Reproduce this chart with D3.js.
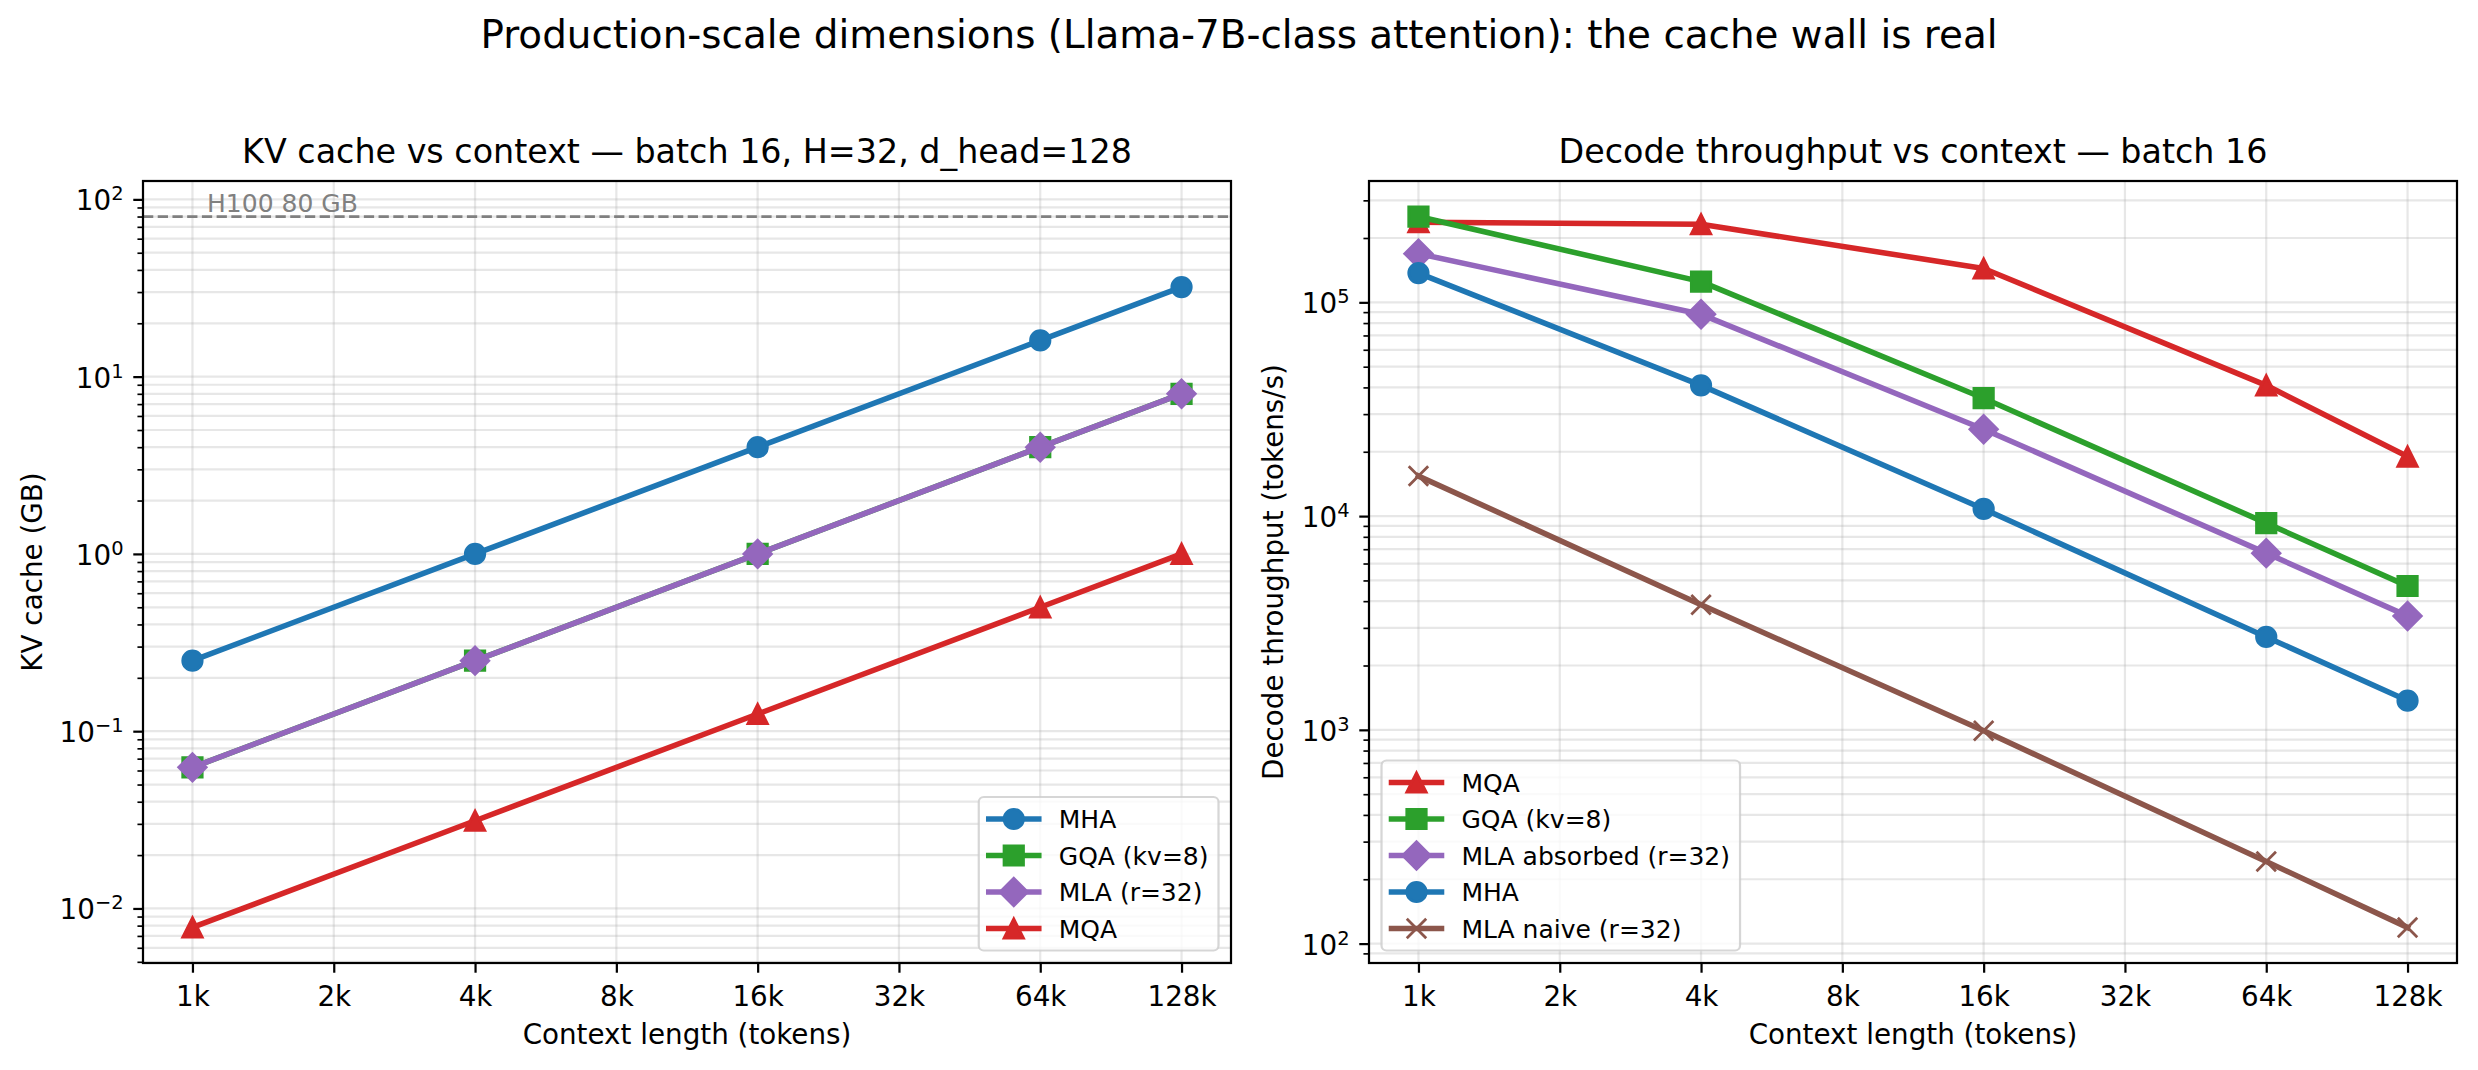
<!DOCTYPE html>
<html>
<head>
<meta charset="utf-8">
<script src="https://cdn.jsdelivr.net/npm/d3@7"></script>
<style>
  body { margin: 0; background: #fff; }
  svg { display: block; }
  text { font-family: "DejaVu Sans", sans-serif; fill: #000; }
</style>
</head>
<body>
<div id="chart"></div>
<script>
// ---- data ----
const contexts = [1024, 4096, 16384, 65536, 131072];
const xTicks = [1024, 2048, 4096, 8192, 16384, 32768, 65536, 131072];
const xTickLabels = ["1k", "2k", "4k", "8k", "16k", "32k", "64k", "128k"];

// KV cache (GB), batch 16
const cacheMHA = [0.25, 1, 4, 16, 32];
const cacheGQA = [0.0625, 0.25, 1, 4, 8];
const cacheMLA = [0.0625, 0.25, 1, 4, 8];
const cacheMQA = [0.0078125, 0.03125, 0.125, 0.5, 1];
const h100Limit = 80;
const h100Label = "H100 80 GB";
const h100LabelAt = [1100, 85];

// decode throughput (tokens/s), batch 16
const tputMQA = [237000, 232000, 144000, 40900, 19000];
const tputGQA = [252000, 125000, 35600, 9270, 4710];
const tputMLAabs = [169000, 87900, 25500, 6710, 3410];
const tputMHA = [137000, 40900, 10800, 2720, 1370];
const tputMLAnaive = [15400, 3850, 990, 242, 119];

const leftSeries = [
  { name: "MHA", values: cacheMHA, style: "mha" },
  { name: "GQA (kv=8)", values: cacheGQA, style: "gqa" },
  { name: "MLA (r=32)", values: cacheMLA, style: "mla" },
  { name: "MQA", values: cacheMQA, style: "mqa" }
];
const rightSeries = [
  { name: "MQA", values: tputMQA, style: "mqa" },
  { name: "GQA (kv=8)", values: tputGQA, style: "gqa" },
  { name: "MLA absorbed (r=32)", values: tputMLAabs, style: "mla" },
  { name: "MHA", values: tputMHA, style: "mha" },
  { name: "MLA naive (r=32)", values: tputMLAnaive, style: "naive" }
];

// ---- styles ----
const styles = {
  mha:   { color: "#1f77b4", marker: "o" },
  gqa:   { color: "#2ca02c", marker: "s" },
  mla:   { color: "#9467bd", marker: "D" },
  mqa:   { color: "#d62728", marker: "^" },
  naive: { color: "#8c564b", marker: "x" }
};

const PT = 200 / 72;
const W = 2478, H = 1070;
const TOP = 181, BOTTOM = 963;
const LW = 2 * PT, MS = 7 * PT, MEW = 1 * PT;
const TICK_FS = 10 * PT, TITLE_FS = 12 * PT, LEG_FS = 9 * PT;

const svg = d3.select("#chart").append("svg")
  .attr("width", W).attr("height", H);

svg.append("text")
  .attr("x", W / 2).attr("y", 48)
  .attr("text-anchor", "middle")
  .attr("font-size", 14 * PT)
  .text("Production-scale dimensions (Llama-7B-class attention): the cache wall is real");

function padLog(vals) {
  const lo = Math.log10(d3.min(vals)), hi = Math.log10(d3.max(vals));
  const m = (hi - lo) * 0.05;
  return [Math.pow(10, lo - m), Math.pow(10, hi + m)];
}

function markerPath(type, s) {
  const h = s / 2;
  if (type === "o") return d3.arc()({ innerRadius: 0, outerRadius: h, startAngle: 0, endAngle: 2 * Math.PI });
  if (type === "s") return `M${-h},${-h}H${h}V${h}H${-h}Z`;
  if (type === "D") { const d = h * Math.SQRT2; return `M0,${-d}L${d},0L0,${d}L${-d},0Z`; }
  if (type === "^") return `M0,${-h}L${h},${h}L${-h},${h}Z`;
  if (type === "x") return `M${-h},${-h}L${h},${h}M${-h},${h}L${h},${-h}`;
}

function drawMarker(sel, st) {
  sel.attr("d", markerPath(st.marker, MS))
    .attr("fill", st.marker === "x" ? "none" : st.color)
    .attr("stroke", st.color)
    .attr("stroke-width", MEW)
    .attr("stroke-linejoin", "miter");
}

function drawPanel(cfg) {
  const { id, x0, x1, series, extraY, title, ylabel, ylabelX, legendSide } = cfg;
  const allY = series.flatMap(s => s.values).concat(extraY || []);
  const x = d3.scaleLog().base(2).domain(padLog(contexts)).range([x0, x1]);
  const y = d3.scaleLog().domain(padLog(allY)).range([BOTTOM, TOP]);
  const g = svg.append("g");

  g.append("clipPath").attr("id", id).append("rect")
    .attr("x", x0).attr("y", TOP).attr("width", x1 - x0).attr("height", BOTTOM - TOP);

  // y ticks (major decades + minor)
  const [ylo, yhi] = y.domain();
  const majors = [], minors = [];
  for (let n = Math.floor(Math.log10(ylo)); n <= Math.ceil(Math.log10(yhi)); n++) {
    for (let k = 1; k <= 9; k++) {
      const v = k * Math.pow(10, n);
      if (v >= ylo && v <= yhi) (k === 1 ? majors : minors).push(v);
    }
  }

  // grid
  const grid = g.append("g").attr("stroke", "#b0b0b0").attr("stroke-opacity", 0.3).attr("stroke-width", 0.8 * PT);
  grid.selectAll("line.h").data(majors.concat(minors)).enter().append("line")
    .attr("x1", x0).attr("x2", x1).attr("y1", d => y(d)).attr("y2", d => y(d));
  grid.selectAll("line.v").data(xTicks).enter().append("line")
    .attr("y1", TOP).attr("y2", BOTTOM).attr("x1", d => x(d)).attr("x2", d => x(d));

  const plot = g.append("g").attr("clip-path", `url(#${id})`);
  if (cfg.limit) {
    plot.append("line")
      .attr("x1", x0).attr("x2", x1)
      .attr("y1", y(cfg.limit)).attr("y2", y(cfg.limit))
      .attr("stroke", "#808080").attr("stroke-width", 1 * PT)
      .attr("stroke-dasharray", `${3.7 * PT},${1.6 * PT}`);
    g.append("text")
      .attr("x", x(cfg.limitLabelAt[0])).attr("y", y(cfg.limitLabelAt[1]))
      .attr("font-size", 9 * PT).style("fill", "#808080")
      .text(cfg.limitLabel);
  }

  const line = d3.line().x((d, i) => x(contexts[i])).y(d => y(d));
  series.forEach(s => {
    const st = styles[s.style];
    plot.append("path").attr("d", line(s.values))
      .attr("fill", "none").attr("stroke", st.color).attr("stroke-width", LW)
      .attr("stroke-linejoin", "round").attr("stroke-linecap", "square");
    plot.selectAll(null).data(s.values).enter().append("path")
      .attr("transform", (d, i) => `translate(${x(contexts[i])},${y(d)})`)
      .call(drawMarker, st);
  });

  // axes
  const xAxis = g.append("g").attr("transform", `translate(0,${BOTTOM})`)
    .call(d3.axisBottom(x).tickValues(xTicks).tickFormat((d, i) => xTickLabels[i])
      .tickSize(3.5 * PT).tickPadding(3.5 * PT).tickSizeOuter(0));
  xAxis.select(".domain").remove();
  xAxis.selectAll("line").attr("stroke-width", 0.8 * PT);
  xAxis.selectAll("text").attr("font-size", TICK_FS).attr("dy", "0.85em")
    .attr("font-family", "DejaVu Sans");

  const yMinor = g.append("g").attr("transform", `translate(${x0},0)`)
    .call(d3.axisLeft(y).tickValues(minors).tickFormat("").tickSize(2 * PT).tickSizeOuter(0));
  yMinor.select(".domain").remove();
  yMinor.selectAll("line").attr("stroke-width", 0.6 * PT);
  const yMajor = g.append("g").attr("transform", `translate(${x0},0)`)
    .call(d3.axisLeft(y).tickValues(majors).tickFormat("").tickSize(3.5 * PT).tickSizeOuter(0));
  yMajor.select(".domain").remove();
  yMajor.selectAll("line").attr("stroke-width", 0.8 * PT);

  const lab = g.selectAll("text.ylab").data(majors).enter().append("text")
    .attr("class", "ylab")
    .attr("x", x0 - 7 * PT).attr("y", d => y(d) + 11)
    .attr("text-anchor", "end").attr("font-size", TICK_FS);
  lab.append("tspan").text("10");
  lab.append("tspan").attr("font-size", TICK_FS * 0.7).attr("dy", -10)
    .text(d => String(Math.round(Math.log10(d))).replace("-", "\u2212"));

  // spines
  g.append("rect").attr("x", x0).attr("y", TOP).attr("width", x1 - x0).attr("height", BOTTOM - TOP)
    .attr("fill", "none").attr("stroke", "#000").attr("stroke-width", 0.8 * PT);

  // labels
  g.append("text").attr("x", (x0 + x1) / 2).attr("y", 163)
    .attr("text-anchor", "middle").attr("font-size", TITLE_FS).text(title);
  g.append("text").attr("x", (x0 + x1) / 2).attr("y", 1044)
    .attr("text-anchor", "middle").attr("font-size", TICK_FS).text("Context length (tokens)");
  g.append("text").attr("transform", `translate(${ylabelX},${(TOP + BOTTOM) / 2}) rotate(-90)`)
    .attr("text-anchor", "middle").attr("font-size", TICK_FS).text(ylabel);

  // legend
  const pad = 0.4 * LEG_FS, hl = 2 * LEG_FS, htp = 0.8 * LEG_FS, rowH = 24, sp = 0.5 * LEG_FS;
  const leg = g.append("g");
  const frame = leg.append("rect");
  const texts = series.map(s => leg.append("text").attr("font-size", LEG_FS).text(s.name));
  const tw = d3.max(texts, t => t.node().getComputedTextLength());
  const bw = pad + hl + htp + tw + pad;
  const bh = 2 * pad + series.length * rowH + (series.length - 1) * sp;
  const bx = legendSide === "right" ? x1 - 0.5 * LEG_FS - bw : x0 + 0.5 * LEG_FS;
  const by = BOTTOM - 0.5 * LEG_FS - bh;
  frame.attr("x", bx).attr("y", by).attr("width", bw).attr("height", bh)
    .attr("rx", 0.2 * LEG_FS).attr("ry", 0.2 * LEG_FS)
    .attr("fill", "#fff").attr("fill-opacity", 0.8)
    .attr("stroke", "#cccccc").attr("stroke-opacity", 0.8).attr("stroke-width", 0.8 * PT);
  series.forEach((s, i) => {
    const st = styles[s.style];
    const cy = by + pad + rowH / 2 + i * (rowH + sp);
    const hx = bx + pad;
    leg.append("line").attr("x1", hx).attr("x2", hx + hl).attr("y1", cy).attr("y2", cy)
      .attr("stroke", st.color).attr("stroke-width", LW).attr("stroke-linecap", "square");
    leg.append("path").attr("transform", `translate(${hx + hl / 2},${cy})`).call(drawMarker, st);
    texts[i].attr("x", hx + hl + htp).attr("y", cy + 9);
  });
}

drawPanel({
  id: "clipL", x0: 143, x1: 1231, series: leftSeries, extraY: [h100Limit],
  title: "KV cache vs context \u2014 batch 16, H=32, d_head=128",
  ylabel: "KV cache (GB)", ylabelX: 41.5, legendSide: "right",
  limit: h100Limit, limitLabel: h100Label, limitLabelAt: h100LabelAt
});

drawPanel({
  id: "clipR", x0: 1369, x1: 2457, series: rightSeries,
  title: "Decode throughput vs context \u2014 batch 16",
  ylabel: "Decode throughput (tokens/s)", ylabelX: 1283, legendSide: "left"
});
</script>
</body>
</html>
